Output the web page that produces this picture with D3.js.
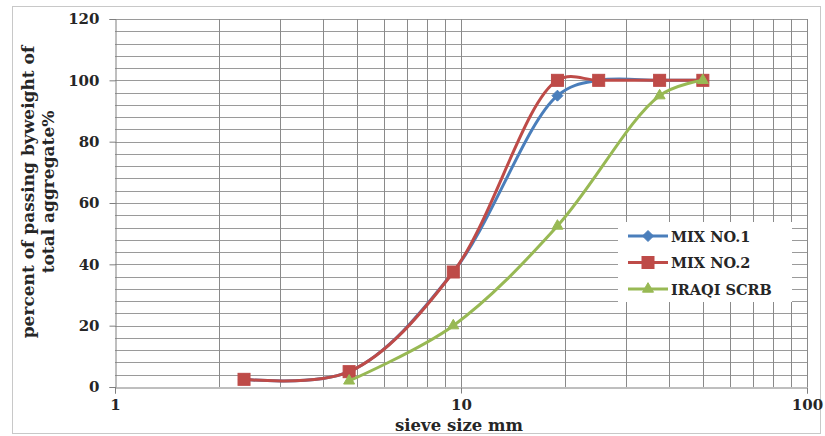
<!DOCTYPE html>
<html><head><meta charset="utf-8">
<script src="https://cdn.jsdelivr.net/npm/d3@7"></script>
<style>body{margin:0;background:#fff}</style>
</head><body><svg id="c" width="825" height="436"></svg>
<script>
// ---- data ----
const sieveMix = [2.36, 4.75, 9.5, 19, 25, 37.5, 50];
const mix1 = [2.5, 5, 37.5, 95, 100, 100, 100];
const mix2 = [2.5, 5, 37.5, 100, 100, 100, 100];
const sieveIraqi = [4.75, 9.5, 19, 37.5, 50];
const iraqi = [2, 20, 52.5, 95, 100];
const seriesNames = ["MIX NO.1", "MIX NO.2", "IRAQI SCRB"];
const yTicks = [0, 20, 40, 60, 80, 100, 120];
const xTicks = [1, 10, 100];
const xTitle = "sieve size mm";
const yTitle = ["percent of passing byweight of", "total aggregate%"];

// ---- layout ----
const svg = d3.select("#c");
const FONT = "'DejaVu Serif', serif";
const TXT = "#262626";
const x = d3.scaleLog().domain([1, 100]).range([115, 807]);
const y = d3.scaleLinear().domain([0, 120]).range([387, 19]);

svg.append("rect").attr("x", 12.5).attr("y", 6.5).attr("width", 808).attr("height", 427)
  .attr("fill", "#fff").attr("stroke", "#c8c8c8");

// grid
const g = svg.append("g");
const hVals = d3.range(4, 121, 4);
g.selectAll(".h").data(hVals).join("line")
  .attr("x1", x(1)).attr("x2", x(100))
  .attr("y1", d => Math.round(y(d)) + 0.5).attr("y2", d => Math.round(y(d)) + 0.5)
  .attr("stroke", "#9a9a9a").attr("stroke-width", 1);
const vVals = [2,3,4,5,6,7,8,9,10,20,30,40,50,60,70,80,90,100];
g.selectAll(".v").data(vVals).join("line")
  .attr("y1", y(0)).attr("y2", y(120))
  .attr("x1", d => Math.round(x(d)) + 0.5).attr("x2", d => Math.round(x(d)) + 0.5)
  .attr("stroke", "#8a8a8a").attr("stroke-width", 1);

// axes
const yAxis = d3.axisLeft(y).tickValues(yTicks).tickSize(6).tickPadding(10);
const ya = svg.append("g").attr("transform", `translate(${Math.round(x(1)) + 0.5},0)`).call(yAxis);
ya.select(".domain").attr("stroke", "#7f7f7f");
ya.selectAll(".tick line").attr("stroke", "#7f7f7f");
ya.selectAll("text").attr("font-family", FONT).attr("font-weight", "bold")
  .attr("font-size", 15).attr("fill", TXT);

const xAxis = d3.axisBottom(x).tickValues(xTicks).tickFormat(d3.format("d")).tickSize(6).tickPadding(6);
const xa = svg.append("g").attr("transform", `translate(0,${Math.round(y(0)) + 0.5})`).call(xAxis);
xa.select(".domain").attr("stroke", "#7f7f7f");
xa.selectAll(".tick line").attr("stroke", "#7f7f7f");
xa.selectAll("text").attr("font-family", FONT).attr("font-weight", "bold")
  .attr("font-size", 15).attr("fill", TXT);

// titles
svg.append("text").attr("x", 459).attr("y", 431).attr("text-anchor", "middle")
  .attr("font-family", FONT).attr("font-weight", "bold").attr("font-size", 16.5).attr("fill", TXT)
  .text(xTitle);
const yt = svg.append("text").attr("transform", "translate(34,192) rotate(-90)")
  .attr("text-anchor", "middle").attr("font-family", FONT).attr("font-weight", "bold")
  .attr("font-size", 17).attr("fill", TXT);
yTitle.forEach((t, i) => yt.append("tspan").attr("x", 0).attr("dy", i === 0 ? 0 : 20).text(t));

// series
const colors = ["#4a7ebb", "#be4b48", "#98b954"];
const series = [
  sieveMix.map((s, i) => [s, mix1[i]]),
  sieveMix.map((s, i) => [s, mix2[i]]),
  sieveIraqi.map((s, i) => [s, iraqi[i]])
];
const line = d3.line().x(d => x(d[0])).y(d => y(d[1])).curve(d3.curveCatmullRom.alpha(0.5));

function marker(sel, k, cx, cy) {
  if (k === 0) {
    const r = 5.5;
    sel.append("path").attr("d", `M${cx},${cy - r}L${cx + r},${cy}L${cx},${cy + r}L${cx - r},${cy}Z`)
      .attr("fill", colors[0]).attr("stroke", colors[0]);
  } else if (k === 1) {
    const s = 12;
    sel.append("rect").attr("x", cx - s / 2).attr("y", cy - s / 2).attr("width", s).attr("height", s)
      .attr("fill", colors[1]).attr("stroke", colors[1]);
  } else {
    const s = 11;
    const h = s * Math.sqrt(3) / 2;
    sel.append("path").attr("d", `M${cx},${cy - h * 2 / 3}L${cx + s / 2},${cy + h / 3}L${cx - s / 2},${cy + h / 3}Z`)
      .attr("fill", colors[2]).attr("stroke", colors[2]);
  }
}

series.forEach((data, k) => {
  const sg = svg.append("g");
  sg.append("path").attr("d", line(data)).attr("fill", "none")
    .attr("stroke", colors[k]).attr("stroke-width", 3).attr("stroke-linejoin", "round");
  data.forEach(d => marker(sg, k, x(d[0]), y(d[1])));
});

// legend
const lg = svg.append("g");
lg.append("rect").attr("x", 618).attr("y", 222).attr("width", 174).attr("height", 80).attr("fill", "#fff");
seriesNames.forEach((n, k) => {
  const ly = 236 + k * 26.5;
  lg.append("line").attr("x1", 628).attr("x2", 668).attr("y1", ly).attr("y2", ly)
    .attr("stroke", colors[k]).attr("stroke-width", 3);
  marker(lg, k, 648, ly);
  lg.append("text").attr("x", 671).attr("y", ly + 5.5).attr("font-family", FONT).attr("font-weight", "bold")
    .attr("font-size", 14.5).attr("fill", TXT).text(n);
});
</script></body></html>
